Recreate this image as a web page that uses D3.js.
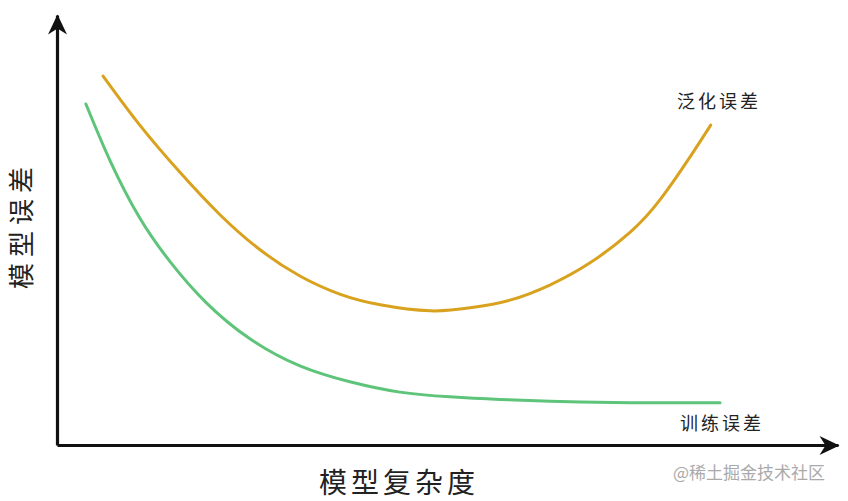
<!DOCTYPE html>
<html>
<head>
<meta charset="utf-8">
<script src="https://d3js.org/d3.v7.min.js"></script>
<style>
  body { margin: 0; background: #fff; }
  text { font-family: "Noto Sans CJK SC", sans-serif; }
</style>
</head>
<body>
<svg id="chart" width="848" height="501"></svg>
<script>
// 模型复杂度 (0-100) vs 误差 (0-100)
const genX = [5.9, 10.6, 15.8, 20.9, 26.0, 31.1, 36.2, 41.4, 47.8, 52.9, 58.0, 63.1, 68.2, 73.4, 77.2, 80.8, 83.7];
const genY = [85.8, 74.4, 63.3, 53.5, 45.4, 39.3, 35.1, 32.6, 31.2, 31.9, 33.7, 37.2, 42.3, 49.5, 57.0, 66.3, 74.4];
const trainX = [3.7, 6.8, 10.6, 14.5, 19.0, 24.7, 31.1, 37.5, 43.9, 50.3, 56.7, 67.0, 75.9, 84.9];
const trainY = [79.3, 66.1, 52.8, 42.6, 33.3, 24.7, 18.4, 14.7, 12.3, 11.2, 10.6, 10.0, 9.8, 9.8];

const svg = d3.select("#chart");

const x = d3.scaleLinear().domain([0, 100]).range([57, 838]);
const y = d3.scaleLinear().domain([0, 100]).range([445, 15]);

// arrow head
svg.append("defs").append("marker")
   .attr("id", "arrow")
   .attr("markerUnits", "userSpaceOnUse")
   .attr("viewBox", "-22 -10 24 20")
   .attr("refX", 0).attr("refY", 0)
   .attr("markerWidth", 24).attr("markerHeight", 20)
   .attr("orient", "auto")
   .append("path")
   .attr("d", "M1,0 L-19,-9.5 L-13,0 L-19,9.5 Z")
   .attr("fill", "#111");

// axes
const xAxis = svg.append("g")
   .attr("transform", "translate(0,445)")
   .call(d3.axisBottom(x).ticks(0).tickSizeOuter(0));
const yAxis = svg.append("g")
   .attr("transform", "translate(57,0)")
   .call(d3.axisLeft(y).ticks(0).tickSizeOuter(0));
[xAxis, yAxis].forEach(a => {
    a.select(".domain")
     .attr("stroke", "#111")
     .attr("stroke-width", 3.2)
     .attr("marker-end", "url(#arrow)");
});

// curves
const line = d3.line()
   .x(d => x(d[0]))
   .y(d => y(d[1]))
   .curve(d3.curveNatural);

svg.append("path")
   .datum(genX.map((v, i) => [v, genY[i]]))
   .attr("d", line)
   .attr("fill", "none")
   .attr("stroke", "#d9a21e")
   .attr("stroke-width", 3)
   .attr("stroke-linecap", "round");

svg.append("path")
   .datum(trainX.map((v, i) => [v, trainY[i]]))
   .attr("d", line)
   .attr("fill", "none")
   .attr("stroke", "#5ec47a")
   .attr("stroke-width", 3)
   .attr("stroke-linecap", "round");

// labels
svg.append("text")
   .attr("x", 677).attr("y", 108)
   .attr("font-size", 18)
   .attr("letter-spacing", 3)
   .attr("fill", "#222")
   .text("泛化误差");

svg.append("text")
   .attr("x", 680).attr("y", 430)
   .attr("font-size", 18)
   .attr("letter-spacing", 3)
   .attr("fill", "#222")
   .text("训练误差");

svg.append("text")
   .attr("x", 319).attr("y", 493)
   .attr("font-size", 28)
   .attr("letter-spacing", 4)
   .attr("fill", "#222")
   .text("模型复杂度");

svg.append("text")
   .attr("transform", "translate(31,289) rotate(-90)")
   .attr("font-size", 26)
   .attr("letter-spacing", 6)
   .attr("fill", "#222")
   .text("模型误差");

svg.append("text")
   .attr("x", 673).attr("y", 479)
   .attr("font-size", 17)
   .attr("fill", "#aaa")
   .text("@稀土掘金技术社区");
</script>
</body>
</html>
